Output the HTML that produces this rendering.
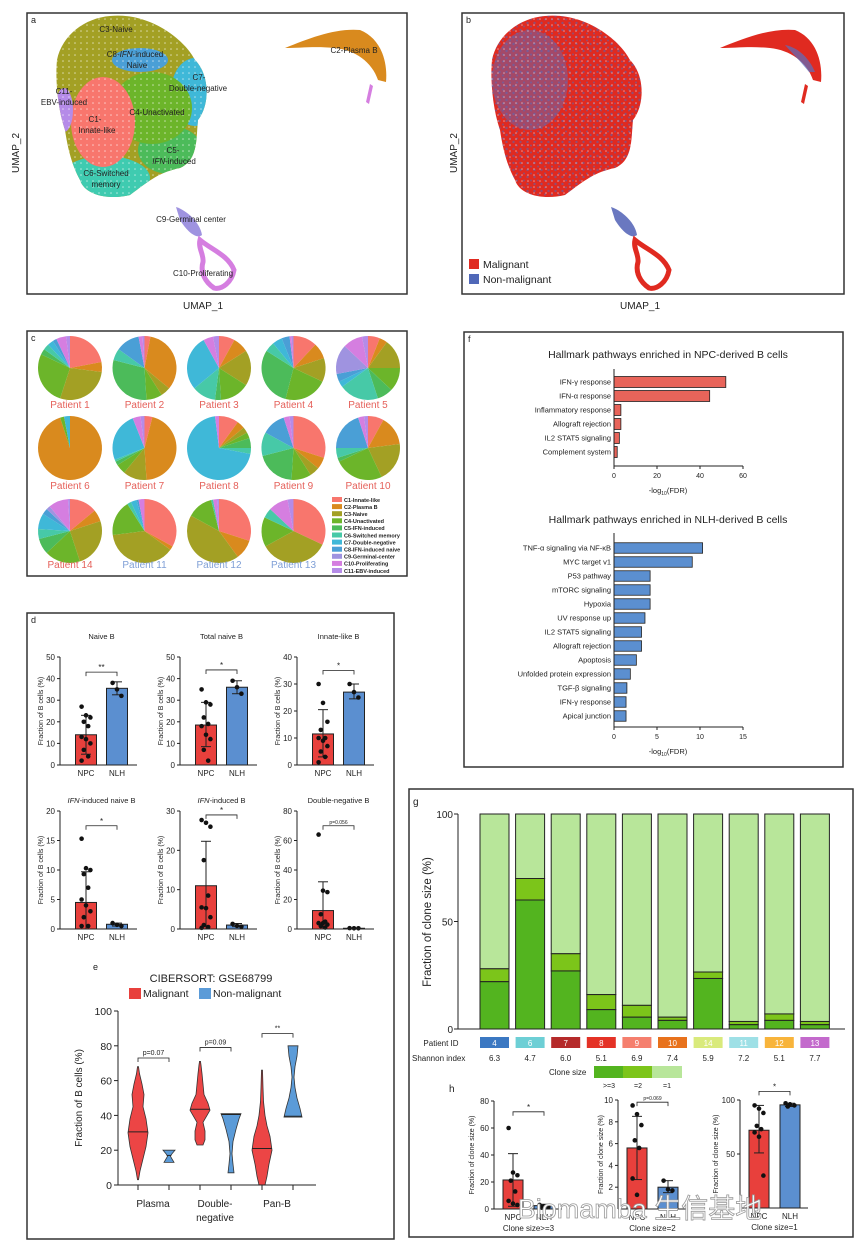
<!DOCTYPE html>
<html><head><meta charset="utf-8"><style>
html,body{margin:0;padding:0;background:#fff;}
svg{display:block;}
</style></head><body>
<svg id="fig" width="865" height="1246" viewBox="0 0 865 1246" font-family="Liberation Sans, Arial, sans-serif">
<defs>
<clipPath id="mainclip"><path d="M110,16 C150,12 185,40 195,60 C210,75 210,105 198,120 C196,140 198,160 180,168 C160,172 150,180 130,195 C110,200 85,196 80,180 C72,165 68,150 65,130 C58,110 55,80 57,60 C62,35 85,18 110,16 Z"/></clipPath>
<pattern id="spk" width="7" height="7" patternUnits="userSpaceOnUse"><circle cx="1.5" cy="2" r="1.2" fill="#5068b8"/><circle cx="5" cy="5.5" r="1" fill="#5068b8"/></pattern>
<pattern id="spkw" width="6" height="6" patternUnits="userSpaceOnUse"><circle cx="3" cy="1" r="0.8" fill="#fff"/></pattern>
</defs>
<rect width="865" height="1246" fill="#fff"/>

<!-- Panel a -->
<g>
<g clip-path="url(#mainclip)">
<rect x="50" y="10" width="170" height="195" fill="#a3a024"/>
<ellipse cx="105" cy="178" rx="45" ry="22" fill="#3fcbb0"/>
<ellipse cx="195" cy="92" rx="24" ry="34" fill="#3fb8d8"/>
<ellipse cx="170" cy="150" rx="32" ry="24" fill="#4cbb5a"/>
<ellipse cx="152" cy="108" rx="40" ry="36" fill="#6cb52a"/>
<ellipse cx="140" cy="60" rx="28" ry="12" fill="#4a9fd6"/>
<ellipse cx="103" cy="122" rx="32" ry="45" fill="#f8766d"/>
<ellipse cx="64" cy="110" rx="9" ry="22" fill="#b58be8"/>
<rect x="50" y="10" width="170" height="195" fill="url(#spkw)" opacity="0.6"/>
</g>
<path d="M285,48 C310,38 335,28 360,30 C380,38 388,60 386,82 L378,80 C372,62 355,50 335,48 C315,46 300,48 285,48Z" fill="#d98a1e"/>
<path d="M370,84 L373,86 L369,104 L366,102Z" fill="#d57ee0"/>
<path d="M176,207 C186,210 200,222 202,235 C196,240 186,230 180,220Z" fill="#9f93e0"/>
<path d="M200,240 C212,250 228,255 234,270 C232,282 222,290 214,288 C205,282 200,272 203,262 C204,255 198,248 200,240Z" fill="none" stroke="#d57ee0" stroke-width="5"/>
<g font-size="8" fill="#222" text-anchor="middle">
<text x="116" y="32">C3-Naive</text>
<text x="135" y="57">C8-<tspan font-style="italic">IFN</tspan>-induced</text>
<text x="137" y="68">Naive</text>
<text x="199" y="80">C7-</text>
<text x="198" y="91">Double-negative</text>
<text x="64" y="94">C11-</text>
<text x="64" y="105">EBV-induced</text>
<text x="157" y="115">C4-Unactivated</text>
<text x="95" y="122">C1-</text>
<text x="97" y="133">Innate-like</text>
<text x="173" y="153">C5-</text>
<text x="174" y="164"><tspan font-style="italic">IFN</tspan>-induced</text>
<text x="106" y="176">C6-Switched</text>
<text x="106" y="187">memory</text>
<text x="354" y="53">C2-Plasma B</text>
<text x="191" y="222">C9-Germinal center</text>
<text x="203" y="276">C10-Proliferating</text>
</g>
<text x="203" y="309" font-size="10" text-anchor="middle" fill="#222">UMAP_1</text>
<text x="19" y="153" font-size="10" text-anchor="middle" fill="#222" transform="rotate(-90 19 153)">UMAP_2</text>
</g>

<!-- Panel b -->
<g>
<g transform="translate(435,0)">
<g clip-path="url(#mainclip)">
<rect x="50" y="10" width="170" height="195" fill="#e02a20"/>
<rect x="50" y="10" width="170" height="195" fill="url(#spk)" opacity="0.55"/>
<ellipse cx="95" cy="80" rx="38" ry="50" fill="#5a6fc0" opacity="0.45"/>
<rect x="50" y="10" width="170" height="195" fill="url(#spkw)" opacity="0.5"/>
</g>
<path d="M285,48 C310,38 335,28 360,30 C380,38 388,60 386,82 L378,80 C372,62 355,50 335,48 C315,46 300,48 285,48Z" fill="#e02a20"/>
<path d="M350,45 C365,48 375,60 380,72 L374,72 C366,62 358,54 350,45Z" fill="#5a6fc0" opacity="0.7"/>
<path d="M370,84 L373,86 L369,104 L366,102Z" fill="#e02a20"/>
<path d="M176,207 C186,210 200,222 202,235 C196,240 186,230 180,220Z" fill="#6a78c0"/>
<path d="M200,240 C212,250 228,255 234,270 C232,282 222,290 214,288 C205,282 200,272 203,262 C204,255 198,248 200,240Z" fill="none" stroke="#e02a20" stroke-width="5"/>
</g>
<rect x="469" y="259" width="10" height="10" fill="#e02a20"/>
<text x="483" y="268" font-size="10.5" fill="#222">Malignant</text>
<rect x="469" y="274" width="10" height="10" fill="#5068b8"/>
<text x="483" y="283" font-size="10.5" fill="#222">Non-malignant</text>
<text x="640" y="309" font-size="10" text-anchor="middle" fill="#222">UMAP_1</text>
<text x="457" y="153" font-size="10" text-anchor="middle" fill="#222" transform="rotate(-90 457 153)">UMAP_2</text>
</g>
</svg>
<script>
// ---------- DATA ----------
// Panel c pies (C1..C11 fractions %)
const clusterNames = ['C1-Innate-like','C2-Plasma B','C3-Naive','C4-Unactivated','C5-IFN-induced','C6-Switched memory','C7-Double-negative','C8-IFN-induced naive','C9-Germinal-center','C10-Proliferating','C11-EBV-induced'];
const patientNames = ['Patient 1','Patient 2','Patient 3','Patient 4','Patient 5','Patient 6','Patient 7','Patient 8','Patient 9','Patient 10','Patient 14','Patient 11','Patient 12','Patient 13'];
const patientIsNPC = [true,true,true,true,true,true,true,true,true,true,true,false,false,false];
const pieP1 = [22,5,28,27,3,3,3,2,0,5,2];
const pieP2 = [3,33,5,8,30,6,0,12,0,2,1];
const pieP3 = [8,8,18,15,3,12,28,0,0,5,3];
const pieP4 = [12,8,12,22,30,5,5,4,0,1,1];
const pieP5 = [6,4,15,12,8,20,3,4,15,10,3];
const pieP6 = [0,95,0,2,0,0,3,0,0,0,0];
const pieP7 = [4,45,12,5,2,1,25,0,0,4,2];
const pieP8 = [10,4,3,3,5,3,70,0,0,2,0];
const pieP9 = [30,6,5,10,20,12,0,12,0,3,2];
const pieP10 = [8,15,20,25,2,5,0,20,0,3,2];
const pieP14 = [14,6,25,18,8,5,8,3,2,10,1];
const pieP11 = [33,2,38,18,0,2,3,1,0,3,0];
const pieP12 = [30,10,43,13,0,1,0,0,0,2,1];
const pieP13 = [32,0,35,15,0,5,0,0,0,10,3];

// Panel f
const npcPathways = ['IFN-\u03b3 response','IFN-\u03b1 response','Inflammatory response','Allograft rejection','IL2 STAT5 signaling','Complement system'];
const npcValues = [52,44.5,3.2,3.2,2.5,1.5];
const npcTicks = [0,20,40,60];
const nlhPathways = ['TNF-\u03b1 signaling via NF-\u03baB','MYC target v1','P53 pathway','mTORC signaling','Hypoxia','UV response up','IL2 STAT5 signaling','Allograft rejection','Apoptosis','Unfolded protein expression','TGF-\u03b2 signaling','IFN-\u03b3 response','Apical junction'];
const nlhValues = [10.3,9.1,4.2,4.2,4.2,3.6,3.2,3.2,2.6,1.9,1.5,1.4,1.4];
const nlhTicks = [0,5,10,15];

// Panel d
const naiveNPC = [27,23,22,20,18,13,12,10,7,4,2];   const naiveNLH = [38,35,32];
const naiveMean = [14,35.5]; const naiveErr = [[5,23],[32.5,38.5]];
const totalNPC = [35,29,28,22,19,18,14,12,7,2];     const totalNLH = [39,36,33];
const totalMean = [18.5,36]; const totalErr = [[8.5,29],[33,39]];
const innateNPC = [30,23,16,13,10,10,9,7,5,3,1];    const innateNLH = [30,27,25];
const innateMean = [11.5,27]; const innateErr = [[3,20.5],[24.5,30]];
const ifnNaiveNPC = [15.3,10.3,10,9.3,7,5,4,3,2,0.5,0.5]; const ifnNaiveNLH = [1,0.7,0.5];
const ifnNaiveMean = [4.5,0.8]; const ifnNaiveErr = [[0,9.7],[0.5,1]];
const ifnNPC = [27.7,27,26,17.5,8.5,5.5,5.3,3,1,0.5,0.3]; const ifnNLH = [1.3,0.8,0.6];
const ifnMean = [11,1]; const ifnErr = [[0,22.3],[0.6,1.4]];
const dnNPC = [64,26,25,10,5,4,4,3,2,1];            const dnNLH = [0.6,0.5,0.5];
const dnMean = [12.5,0.5]; const dnErr = [[0,32],[0.4,0.6]];

// Panel e violins: [value, half-width]
const violinCategories = ['Plasma','Double-','Pan-B'];
const plasmaMal = [[3,0.5],[8,2],[15,5],[22,8],[30,10],[38,8],[45,5],[52,6],[58,4],[64,1.5],[68,0.5]];
const plasmaNon = [[13,5],[15,3],[16.5,1.5],[18,3],[20,6]];
const dnMal = [[23,3],[26,5],[31,5],[36,3],[40,7],[43,10],[47,8],[52,4],[58,3],[64,2],[69,1],[71,0.5]];
const dnNon = [[7,3],[12,2],[18,1],[25,2],[32,5],[38,8],[41,10]];
const panMal = [[0,3],[5,5],[12,7],[20,10],[28,8],[34,5],[40,3],[48,1.5],[56,1],[66,0.5]];
const panNon = [[39,9],[44,7],[50,4],[56,2],[62,1],[68,2],[74,4],[80,5]];
const violinMedians = [30.5,17,43.5,40.5,21,39.5];
const violinTicks = [0,20,40,60,80,100];

// Panel g
const gPatients = ['4','6','7','8','9','10','14','11','12','13'];
const gShannon = ['6.3','4.7','6.0','5.1','6.9','7.4','5.9','7.2','5.1','7.7'];
const gClone3 = [22,60,27,9,5.5,4,23.5,2,4,2];
const gClone2 = [6,10,8,7,5.5,1.5,3,1.5,3,1.5];
const gTicks = [0,50,100];
const gPatientColors = ['#3b78c2','#6dcfd5','#b52a2a','#e43226','#f57f6e','#e8721c','#d9ea7c','#9ee0e6','#f8b43b','#c36acc'];

// Panel h
const h1NPC = [60,27,25,21,13,6,4,3]; const h1NLH = [3,2,1.5,1];
const h1Mean = [21.5,2.5]; const h1Err = [[2,41],[1,3.5]];
const h2NPC = [9.5,8.7,7.7,6.3,5.6,2.8,1.3]; const h2NLH = [2.6,1.8,1.7];
const h2Mean = [5.6,2.0]; const h2Err = [[2.7,8.5],[1.5,2.6]];
const h3NPC = [95,92,88,76,73,70,66,30]; const h3NLH = [97,96,95,94];
const h3Mean = [72,95.5]; const h3Err = [[51,95],[94,97]];

// ---------- HELPERS ----------
const NS = 'http://www.w3.org/2000/svg';
const svg = document.getElementById('fig');
function add(parent, tag, attrs, name, text) {
  const el = document.createElementNS(NS, tag);
  for (const k in attrs) el.setAttribute(k, attrs[k]);
  
  
  if (text !== undefined) el.textContent = text;
  parent.appendChild(el);
  return el;
}
function T(p, x, y, s, size, name, extra) {
  const o = Object.assign({x: x, y: y, 'font-size': size, fill: '#222'}, extra || {});
  return add(p, 'text', o, name, s);
}
function L(p, x1, y1, x2, y2, name, w, c) {
  return add(p, 'line', {x1: x1, y1: y1, x2: x2, y2: y2, stroke: c || '#222', 'stroke-width': w || 1}, name);
}

// Frames
const frames = [['panel-a-frame',27,13,380,281],['panel-b-frame',462,13,382,281],['panel-c-frame',27,331,380,245],['panel-f-frame',464,332,379,435],['panel-d-frame',27,613,367,626],['panel-g-frame',409,789,444,448]];
frames.forEach(f => add(svg, 'rect', {x: f[1], y: f[2], width: f[3], height: f[4], fill: 'none', stroke: '#333', 'stroke-width': 1.5}, f[0]));
T(svg, 31, 23, 'a', 9, 'panel-letter-a');
T(svg, 466, 23, 'b', 9, 'panel-letter-b');
T(svg, 31, 341, 'c', 9, 'panel-letter-c');
T(svg, 468, 342, 'f', 9, 'panel-letter-f');
T(svg, 31, 623, 'd', 9, 'panel-letter-d');
T(svg, 413, 805, 'g', 10, 'panel-letter-g');
T(svg, 93, 970, 'e', 9, 'panel-letter-e');
T(svg, 449, 1092, 'h', 10, 'panel-letter-h');

// ---------- PANEL C: pies ----------
const pieColors = ['#f8766d','#d98a1e','#a3a024','#6cb52a','#4cbb5a','#47c9a7','#3fb8d8','#4a9fd6','#9f93e0','#d57ee0','#b58be8'];
const pieData = [pieP1,pieP2,pieP3,pieP4,pieP5,pieP6,pieP7,pieP8,pieP9,pieP10,pieP14,pieP11,pieP12,pieP13];
const pieRowY = [368,448,531];
const pieLabelY = [408,489,568];
const gc = add(svg, 'g', {}, 'pie-chart-panel');
pieData.forEach((vals, i) => {
  const col = i % 5, row = Math.floor(i / 5);
  const cx = 70 + col * 74.5, cy = pieRowY[row], r = 32;
  const total = vals.reduce((a, b) => a + b, 0);
  let a0 = -Math.PI / 2;
  const pg = add(gc, 'g', {}, 'pie-' + patientNames[i].toLowerCase().replace(' ', '-'));
  vals.forEach((v, k) => {
    if (v <= 0) return;
    const a1 = a0 + v / total * Math.PI * 2;
    const large = (a1 - a0) > Math.PI ? 1 : 0;
    const d = 'M' + cx + ',' + cy + ' L' + (cx + r * Math.cos(a0)) + ',' + (cy + r * Math.sin(a0)) + ' A' + r + ',' + r + ' 0 ' + large + ' 1 ' + (cx + r * Math.cos(a1)) + ',' + (cy + r * Math.sin(a1)) + ' Z';
    add(pg, 'path', {d: d, fill: pieColors[k]}, 'pie-slice');
    a0 = a1;
  });
  T(gc, cx, pieLabelY[row], patientNames[i], 10, 'pie-label', {'text-anchor': 'middle', fill: patientIsNPC[i] ? '#e5605a' : '#7f9fd6'});
});
clusterNames.forEach((n, k) => {
  const y = 497 + k * 7.1;
  add(gc, 'rect', {x: 332, y: y, width: 10, height: 5, fill: pieColors[k]}, 'pie-legend-swatch');
  T(gc, 344, y + 4.8, n, 5.5, 'pie-legend-entry', {'font-weight': 'bold'});
});

// ---------- PANEL F ----------
function hbar(parent, title, titleY, names, vals, ticks, axTop, axBot, barY0, step, bh, color, xmaxPix, label) {
  const g = add(parent, 'g', {}, 'hallmark-bar-chart');
  const x0 = 614, tmax = ticks[ticks.length - 1];
  const sx = v => x0 + v / tmax * (xmaxPix - x0);
  T(g, 668, titleY, title, 10.5, 'chart-title', {'text-anchor': 'middle'});
  names.forEach((n, i) => {
    const cy = barY0 + i * step;
    add(g, 'rect', {x: x0, y: cy - bh / 2, width: sx(vals[i]) - x0, height: bh, fill: color, stroke: '#222', 'stroke-width': 0.8}, 'pathway-bar');
    T(g, x0 - 3, cy + 2.7, n, 7.5, 'pathway-label', {'text-anchor': 'end'});
  });
  L(g, x0, axTop, x0, axBot, 'y-axis');
  L(g, x0, axBot, xmaxPix, axBot, 'x-axis');
  ticks.forEach(t => {
    L(g, sx(t), axBot, sx(t), axBot + 3, 'x-tick');
    T(g, sx(t), axBot + 12, String(t), 7, 'x-tick-label', {'text-anchor': 'middle'});
  });
  const lt = T(g, 668, axBot + 27, '-log', 7.5, 'x-axis-title', {'text-anchor': 'middle'});
  const s1 = document.createElementNS(NS, 'tspan'); s1.setAttribute('font-size', '5'); s1.setAttribute('dy', '2'); s1.textContent = '10'; lt.appendChild(s1);
  const s2 = document.createElementNS(NS, 'tspan'); s2.setAttribute('dy', '-2'); s2.textContent = '(FDR)'; lt.appendChild(s2);
}
hbar(svg, 'Hallmark pathways enriched in NPC-derived B cells', 358, npcPathways, npcValues, npcTicks, 369, 466, 382, 14, 11, '#e8645a', 743);
hbar(svg, 'Hallmark pathways enriched in NLH-derived B cells', 523, nlhPathways, nlhValues, nlhTicks, 533, 727, 548, 14, 10.5, '#5b8fd0', 743);

// ---------- PANEL D / H: bar + dots ----------
function dotBar(parent, o, npcPts, nlhPts, means, errs) {
  const g = add(parent, 'g', {}, o.name);
  const sy = v => o.y0 - v / o.ymax * (o.y0 - o.yTop);
  const cN = o.ax + o.off1, cL = o.ax + o.off2;
  if (o.title) {
    const t = T(g, o.ax + (o.off1 + o.off2) / 2, o.titleY, '', 7.5, 'subplot-title', {'text-anchor': 'middle'});
    if (o.italic) { const s = document.createElementNS(NS, 'tspan'); s.setAttribute('font-style', 'italic'); s.textContent = o.italic; t.appendChild(s); }
    t.appendChild(document.createTextNode(o.title));
  }
  [[cN, means[0], errs[0], '#e8403c', npcPts, 'npc'], [cL, means[1], errs[1], '#5b8fd0', nlhPts, 'nlh']].forEach(b => {
    add(g, 'rect', {x: b[0] - o.bw / 2, y: sy(b[1]), width: o.bw, height: o.y0 - sy(b[1]), fill: b[3], stroke: '#222', 'stroke-width': 1}, 'bar-' + b[5]);
    L(g, b[0], sy(b[2][0]), b[0], sy(b[2][1]), 'error-bar-' + b[5], 1);
    L(g, b[0] - 5, sy(b[2][1]), b[0] + 5, sy(b[2][1]), 'error-cap-' + b[5], 1);
    L(g, b[0] - 5, sy(b[2][0]), b[0] + 5, sy(b[2][0]), 'error-cap-' + b[5], 1);
    b[4].forEach((v, i) => {
      const jx = ((i * 7) % 5 - 2) * 2.2;
      add(g, 'circle', {cx: b[0] + jx, cy: sy(v), r: 2.3, fill: '#111'}, 'data-point-' + b[5]);
    });
  });
  L(g, o.ax, o.yTop, o.ax, o.y0, 'y-axis');
  L(g, o.ax, o.y0, o.ax + o.axLen, o.y0, 'x-axis');
  o.ticks.forEach(t => {
    L(g, o.ax - 3, sy(t), o.ax, sy(t), 'y-tick');
    T(g, o.ax - 5, sy(t) + 3, String(t), o.tickFs, 'y-tick-label', {'text-anchor': 'end'});
  });
  T(g, cN, o.y0 + o.xlabOff, 'NPC', o.tickFs, 'x-label-npc', {'text-anchor': 'middle'});
  T(g, cL, o.y0 + o.xlabOff, 'NLH', o.tickFs, 'x-label-nlh', {'text-anchor': 'middle'});
  if (o.sub) T(g, (cN + cL) / 2, o.y0 + o.xlabOff + 11, o.sub, 8, 'x-sub-label', {'text-anchor': 'middle'});
  const yb = sy(o.sig);
  add(g, 'path', {d: 'M' + cN + ',' + (yb + 4) + ' V' + yb + ' H' + cL + ' V' + (yb + 4), fill: 'none', stroke: '#222', 'stroke-width': 0.8}, 'significance-bracket');
  T(g, (cN + cL) / 2, yb - 2, o.star, o.star.length > 2 ? 5 : 8, 'significance-label', {'text-anchor': 'middle'});
  const yl = T(g, 0, 0, o.ylab, o.ylabFs, 'y-axis-title', {'text-anchor': 'middle', transform: 'translate(' + (o.ax - o.ylabOff) + ',' + (o.yTop + o.y0) / 2 + ') rotate(-90)'});
}
const dBase = {off1: 26, off2: 57, bw: 21, axLen: 77, tickFs: 8, xlabOff: 11, ylab: 'Fraction of B cells (%)', ylabFs: 7, ylabOff: 17};
dotBar(svg, Object.assign({}, dBase, {name: 'naive-b-plot', ax: 60, yTop: 657, y0: 765, ymax: 50, ticks: [0,10,20,30,40,50], title: 'Naive B', titleY: 639, sig: 43, star: '**'}), naiveNPC, naiveNLH, naiveMean, naiveErr);
dotBar(svg, Object.assign({}, dBase, {name: 'total-naive-b-plot', ax: 180, yTop: 657, y0: 765, ymax: 50, ticks: [0,10,20,30,40,50], title: 'Total naive B', titleY: 639, sig: 44, star: '*'}), totalNPC, totalNLH, totalMean, totalErr);
dotBar(svg, Object.assign({}, dBase, {name: 'innate-like-b-plot', ax: 297, yTop: 657, y0: 765, ymax: 40, ticks: [0,10,20,30,40], title: 'Innate-like B', titleY: 639, sig: 35, star: '*'}), innateNPC, innateNLH, innateMean, innateErr);
dotBar(svg, Object.assign({}, dBase, {name: 'ifn-naive-b-plot', ax: 60, yTop: 811, y0: 929, ymax: 20, ticks: [0,5,10,15,20], title: '-induced naive B', italic: 'IFN', titleY: 803, sig: 17.5, star: '*'}), ifnNaiveNPC, ifnNaiveNLH, ifnNaiveMean, ifnNaiveErr);
dotBar(svg, Object.assign({}, dBase, {name: 'ifn-b-plot', ax: 180, yTop: 811, y0: 929, ymax: 30, ticks: [0,10,20,30], title: '-induced B', italic: 'IFN', titleY: 803, sig: 29, star: '*'}), ifnNPC, ifnNLH, ifnMean, ifnErr);
dotBar(svg, Object.assign({}, dBase, {name: 'double-negative-b-plot', ax: 297, yTop: 811, y0: 929, ymax: 80, ticks: [0,20,40,60,80], title: 'Double-negative B', titleY: 803, sig: 70, star: 'p=0.056'}), dnNPC, dnNLH, dnMean, dnErr);

const hBase = {off1: 19, off2: 50, bw: 20, axLen: 68, tickFs: 8, xlabOff: 11, ylab: 'Fraction of clone size (%)', ylabFs: 7, ylabOff: 20};
dotBar(svg, Object.assign({}, hBase, {name: 'clone-size-3-plot', ax: 494, yTop: 1101, y0: 1209, ymax: 80, ticks: [0,20,40,60,80], sig: 72, star: '*', sub: 'Clone size>=3'}), h1NPC, h1NLH, h1Mean, h1Err);
dotBar(svg, Object.assign({}, hBase, {name: 'clone-size-2-plot', ax: 618, yTop: 1100, y0: 1209, ymax: 10, ticks: [2,4,6,8,10], sig: 9.8, star: 'p=0.069', sub: 'Clone size=2', ylabOff: 15}), h2NPC, h2NLH, h2Mean, h2Err);
dotBar(svg, Object.assign({}, hBase, {name: 'clone-size-1-plot', ax: 740, yTop: 1100, y0: 1208, ymax: 100, ticks: [50,100], sig: 108, star: '*', sub: 'Clone size=1', ylabOff: 22}), h3NPC, h3NLH, h3Mean, h3Err);

// ---------- PANEL E: violins ----------
(function () {
  const g = add(svg, 'g', {}, 'cibersort-violin-plot');
  const ax = 118, y0 = 1185, yTop = 1011, xEnd = 316;
  const sy = v => y0 - v / 100 * (y0 - yTop);
  const centers = [138, 169, 200, 231, 262, 293];
  const shapes = [plasmaMal, plasmaNon, dnMal, dnNon, panMal, panNon];
  shapes.forEach((sh, i) => {
    const c = centers[i];
    let d = '';
    sh.forEach((p, k) => { d += (k ? 'L' : 'M') + (c + p[1]) + ',' + sy(p[0]); });
    for (let k = sh.length - 1; k >= 0; k--) d += 'L' + (c - sh[k][1]) + ',' + sy(sh[k][0]);
    add(g, 'path', {d: d + 'Z', fill: i % 2 ? '#5b9bd8' : '#ec4545', stroke: '#333', 'stroke-width': 0.8}, i % 2 ? 'violin-non-malignant' : 'violin-malignant');
    const m = violinMedians[i];
    let hw = 0;
    for (let k = 0; k < sh.length - 1; k++) if (m >= sh[k][0] && m <= sh[k + 1][0]) { const f = (m - sh[k][0]) / (sh[k + 1][0] - sh[k][0]); hw = sh[k][1] + f * (sh[k + 1][1] - sh[k][1]); }
    L(g, c - hw, sy(m), c + hw, sy(m), 'violin-median', 1, '#222');
    L(g, c, y0, c, y0 + 5, 'x-tick');
  });
  L(g, ax, yTop, ax, y0, 'y-axis');
  L(g, ax, y0, xEnd, y0, 'x-axis');
  violinTicks.forEach(t => {
    L(g, ax - 4, sy(t), ax, sy(t), 'y-tick');
    T(g, ax - 6, sy(t) + 4, String(t), 10.5, 'y-tick-label', {'text-anchor': 'end'});
  });
  T(g, 153, 1207, violinCategories[0], 10, 'x-label-plasma', {'text-anchor': 'middle'});
  T(g, 215, 1207, violinCategories[1], 10, 'x-label-double-negative', {'text-anchor': 'middle'});
  T(g, 215, 1221, 'negative', 10, 'x-label-double-negative-2', {'text-anchor': 'middle'});
  T(g, 277, 1207, violinCategories[2], 10, 'x-label-pan-b', {'text-anchor': 'middle'});
  T(g, 82, 1098, 'Fraction of B cells (%)', 10, 'y-axis-title', {'text-anchor': 'middle', transform: 'rotate(-90 82 1098)'});
  T(g, 211, 982, 'CIBERSORT: GSE68799', 11, 'chart-title', {'text-anchor': 'middle'});
  add(g, 'rect', {x: 129, y: 988, width: 12, height: 11, fill: '#e8403c'}, 'legend-malignant-swatch');
  T(g, 143, 997, 'Malignant', 10.5, 'legend-malignant');
  add(g, 'rect', {x: 199, y: 988, width: 12, height: 11, fill: '#5b9bd8'}, 'legend-nonmalignant-swatch');
  T(g, 213, 997, 'Non-malignant', 10.5, 'legend-nonmalignant');
  const brackets = [[138, 169, 73, 'p=0.07'], [200, 231, 79, 'p=0.09'], [262, 293, 87, '**']];
  brackets.forEach(b => {
    const yb = sy(b[2]);
    add(g, 'path', {d: 'M' + b[0] + ',' + (yb + 4) + ' V' + yb + ' H' + b[1] + ' V' + (yb + 4), fill: 'none', stroke: '#222', 'stroke-width': 0.8}, 'significance-bracket');
    T(g, (b[0] + b[1]) / 2, yb - 3, b[3], 7, 'significance-label', {'text-anchor': 'middle'});
  });
})();

// ---------- PANEL G: stacked bars ----------
(function () {
  const g = add(svg, 'g', {}, 'clone-size-stacked-bar-chart');
  const ax = 458, y0 = 1029, yTop = 814, bw = 29;
  const sy = v => y0 - v / 100 * (y0 - yTop);
  const cx = i => 494.5 + i * 35.6;
  gPatients.forEach((p, i) => {
    const x = cx(i) - bw / 2;
    const a = gClone3[i], b = gClone3[i] + gClone2[i];
    add(g, 'rect', {x: x, y: sy(100), width: bw, height: sy(b) - sy(100), fill: '#b8e69a', stroke: '#222', 'stroke-width': 1}, 'bar-clone-size-1');
    add(g, 'rect', {x: x, y: sy(b), width: bw, height: sy(a) - sy(b), fill: '#7cc51a', stroke: '#222', 'stroke-width': 1}, 'bar-clone-size-2');
    add(g, 'rect', {x: x, y: sy(a), width: bw, height: y0 - sy(a), fill: '#53b41f', stroke: '#222', 'stroke-width': 1}, 'bar-clone-size-3');
    add(g, 'rect', {x: x, y: 1037, width: bw, height: 11, fill: gPatientColors[i]}, 'patient-id-box');
    T(g, cx(i), 1046, p, 8, 'patient-id-label', {'text-anchor': 'middle', fill: '#fff'});
    T(g, cx(i), 1061, gShannon[i], 8, 'shannon-index', {'text-anchor': 'middle'});
  });
  L(g, ax, yTop, ax, y0, 'y-axis');
  L(g, ax, y0, 845, y0, 'x-axis');
  gTicks.forEach(t => {
    L(g, ax - 4, sy(t), ax, sy(t), 'y-tick');
    T(g, ax - 5, sy(t) + 4, String(t), 10, 'y-tick-label', {'text-anchor': 'end'});
  });
  T(g, 431, 922, 'Fraction of clone size (%)', 11.5, 'y-axis-title', {'text-anchor': 'middle', transform: 'rotate(-90 431 922)'});
  T(g, 441, 1046, 'Patient ID', 8, 'patient-id-title', {'text-anchor': 'middle'});
  T(g, 412, 1061, 'Shannon index', 8, 'shannon-title');
  T(g, 549, 1075, 'Clone size', 8, 'clone-size-legend-title');
  add(g, 'rect', {x: 594, y: 1066, width: 30, height: 12, fill: '#53b41f'}, 'legend-swatch-3');
  add(g, 'rect', {x: 623, y: 1066, width: 30, height: 12, fill: '#7cc51a'}, 'legend-swatch-2');
  add(g, 'rect', {x: 652, y: 1066, width: 30, height: 12, fill: '#b8e69a'}, 'legend-swatch-1');
  T(g, 609, 1088, '>=3', 7, 'legend-label-3', {'text-anchor': 'middle'});
  T(g, 638, 1088, '=2', 7, 'legend-label-2', {'text-anchor': 'middle'});
  T(g, 667, 1088, '=1', 7, 'legend-label-1', {'text-anchor': 'middle'});
})();

// Watermark
T(svg, 640, 1218, 'Biomamba 生信基地', 27, 'watermark', {'text-anchor': 'middle', fill: '#fff', stroke: '#999', 'stroke-width': 0.8, 'font-family': 'Liberation Sans, Noto Sans CJK SC, sans-serif'});
</script>
</body></html>
